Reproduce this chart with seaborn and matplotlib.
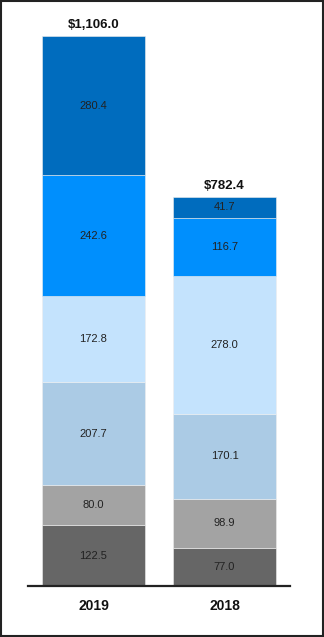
import matplotlib
matplotlib.use("Agg")
import matplotlib.pyplot as plt
import seaborn as sns
import numpy as np
import pandas as pd
from matplotlib.patches import Rectangle

years = ["2019", "2018"]
seg1 = [122.5, 77.0]
seg2 = [80.0, 98.9]
seg3 = [207.7, 170.1]
seg4 = [172.8, 278.0]
seg5 = [242.6, 116.7]
seg6 = [280.4, 41.7]
totals = ["$1,106.0", "$782.4"]

segments = [seg1, seg2, seg3, seg4, seg5, seg6]
colors = ["#666666", "#a3a3a3", "#abcbe5", "#c4e3fd", "#008ffd", "#006cbe"]

sns.set_theme(style="white")
plt.rcParams["font.family"] = ["Liberation Sans", "DejaVu Sans"]

fig = plt.figure(figsize=(3.24, 6.37), dpi=100)
ax = fig.add_axes([28 / 324, 51 / 637, 262 / 324, 566 / 637])

bottom = np.zeros(len(years))
for vals, c in zip(segments, colors):
    df = pd.DataFrame({"year": years, "value": vals})
    sns.barplot(data=df, x="year", y="value", order=years, bottom=bottom,
                color=c, saturation=1, width=0.79, edgecolor="#eeeeee",
                linewidth=0.4, ax=ax)
    for i, v in enumerate(vals):
        ax.text(i, bottom[i] + v / 2, f"{v:.1f}", ha="center", va="center",
                fontsize=8, color="#222222")
    bottom = bottom + np.array(vals)

for i, t in enumerate(totals):
    ax.annotate(t, (i, bottom[i]), xytext=(0, 3.5), textcoords="offset points",
                ha="center", va="bottom", fontsize=9.5, fontweight="bold",
                color="#111111")

ax.set_xlim(-0.5, 1.5)
ax.set_ylim(0, 566 / 0.4973)
ax.set_xlabel("")
ax.set_ylabel("")
ax.set_yticks([])
for s in ["top", "right", "left"]:
    ax.spines[s].set_visible(False)
ax.spines["bottom"].set_color("#222222")
ax.spines["bottom"].set_linewidth(1.6)
ax.tick_params(axis="x", length=0, pad=9)
for lbl in ax.get_xticklabels():
    lbl.set_fontsize(10)
    lbl.set_fontweight("bold")
    lbl.set_color("#111111")

fig.patches.append(Rectangle((0.003, 0.0015), 0.994, 0.997, transform=fig.transFigure,
                             fill=False, edgecolor="#222222", linewidth=1.5))

fig.savefig("out.png", dpi=100)
